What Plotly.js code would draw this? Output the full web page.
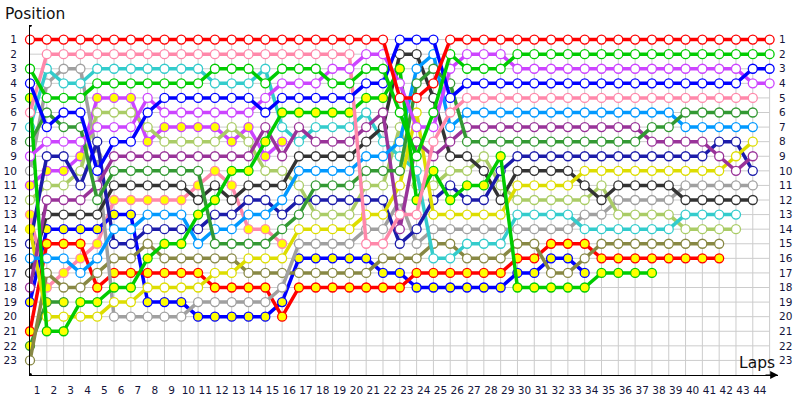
<!DOCTYPE html>
<html><head><meta charset="utf-8">
<script src="https://cdn.plot.ly/plotly-3.0.1.min.js"></script>
<style>html,body{margin:0;padding:0;background:#fff}#chart{width:800px;height:400px}</style>
</head><body><div id="chart"></div>
<script>
const laps = [0,1,2,3,4,5,6,7,8,9,10,11,12,13,14,15,16,17,18,19,20,21,22,23,24,25,26,27,28,29,30,31,32,33,34,35,36,37,38,39,40,41,42,43,44];
const lapTicks = [1,2,3,4,5,6,7,8,9,10,11,12,13,14,15,16,17,18,19,20,21,22,23,24,25,26,27,28,29,30,31,32,33,34,35,36,37,38,39,40,41,42,43,44];
const posTicks = [1,2,3,4,5,6,7,8,9,10,11,12,13,14,15,16,17,18,19,20,21,22,23];

// positions per lap (lap 0 = grid)
const red     = [1,1,1,1,1,1,1,1,1,1, 1,1,1,1,1,1,1,1,1,1, 1,1,5,5,4,1,1,1,1,1, 1,1,1,1,1,1,1,1,1,1, 1,1,1,1,1];
const pink    = [6,2,2,2,2,2,2,2,2,2, 2,2,2,2,2,2,2,2,2,2, 15,15,13,13,8,6,5,5,5,5, 5,5,5,5,5,5,5,5,5,5, 5,5,5,5];
const cyan    = [7,3,4,4,3,3,3,3,3,3, 3,4,4,4,3,7,8,7,7,7, 6,8,9,10,16,16,15,15,15,13, 13,13,13,14,14,14,14,14,14,13, 13,13,13];
const green   = [3,5,5,5,4,4,4,4,4,4, 4,3,3,3,4,3,3,3,4,4, 3,3,6,9,6,2,3,3,3,2, 2,2,2,2,2,2,2,2,2,2, 2,2,2,2,2];
const blue    = [4,7,6,6,10,8,8,6,5,5, 5,5,5,5,6,5,5,5,5,5, 4,4,1,1,1,5,4,4,4,4, 4,4,4,4,4,4,4,4,4,4, 4,4,4,3,3];
const greenY  = [5,21,21,19,19,18,18,16,15,15, 13,12,10,10,8,6,6,6,6,6, 5,5,3,12,10,12,11,11,9,18, 18,18,18,18,17,17,17,17];
const magenta = [9,8,8,8,7,7,7,5,6,6, 6,6,6,6,5,4,4,4,3,3, 2,2,4,7,7,3,2,2,2,3, 3,3,3,3,3,3,3,3,3,3, 3,3,3,4,4];
const dkgreen = [8,6,7,7,12,10,10,10,10,10, 10,15,15,15,15,14,13,11,11,11, 10,10,10,4,3,4,8,8,8,8, 8,8,8,8,8,8,8,7,7,6, 6,6,6,6];
const gray    = [10,4,3,3,9,20,20,20,20,20, 19,19,19,19,19,18,15,15,15,15, 14,14,12,15,14,14,14,14,14,14, 14,14,14,13,13,12,12,12,12,11, 11,11,11,11];
const magentaY= [11,10,10,9,5,5,5,8,7,7, 7,7,8,7,9,8];
const ltgreen = [12,11,11,10,6,6,6,7,8,8, 8,8,7,8,10,10,11,13,13,13, 11,11,7,11,11,10,10,9,11,12, 12,12,12,12,11,13,13,13,13,14, 14,14,14];
const purple  = [18,12,12,12,11,9,9,9,9,9, 9,9,9,9,7,9,7,8,8,8, 7,6,14,8,9,8,7,7,7,7, 7,7,7,7,7,7,7,8,8,8, 8,9,10,9];
const black   = [17,13,13,13,13,11,11,11,11,11, 12,11,12,11,11,11,9,9,9,9, 8,7,2,2,5,9,9,10,12,10, 10,10,10,11,12,11,11,11,11,12, 12,12,12,12];
const pinkY   = [13,18,17,16,15,12,12,12,12,12, 11,10,11,14,14,15];
const blueY   = [19,14,14,14,14,13,13,19,19,19, 20,20,20,20,20,19,16,16,16,16, 16,17,17,18,18,18,18,18,18,17, 17,16,16,17];
const yellow  = [14,20,20,20,20,19,19,18,18,18, 18,17,17,16,16,16,14,14,14,14, 13,13,11,6,13,13,13,13,13,11, 11,11,11,10,10,10,10,10,10,10, 10,10,9,8];
const indigo  = [15,9,9,11,8,15,15,14,14,14, 14,13,13,12,12,13,12,12,12,12, 12,12,15,14,12,11,12,12,10,9, 9,9,9,9,9,9,9,9,9,9, 9,8,8,10];
const ltblue  = [16,16,16,17,16,14,14,13,13,13, 15,14,14,13,13,12,10,10,10,10, 9,9,8,3,2,7,6,6,6,6, 6,6,6,6,6,6,6,6,6,7, 7,7,7,7];
const olive   = [23,17,18,18,17,16,16,15,16,16, 16,16,16,17,17,17,17,17,17,17, 17,16,16,16,15,15,16,16,16,15, 15,17,17,16,15,15,15,15,15,15, 15,15];
const redY    = [21,15,15,15,18,17,17,17,17,17, 17,18,18,18,18,20,18,18,18,18, 18,18,18,17,17,17,17,17,17,16, 16,15,15,15,16,16,16,16,16,16, 16,16];
const dkgreenY= [22,19,19];

const W = '#ffffff', Y = '#ffff00';
const drivers = [
  {y: dkgreenY, c:'#339933', f:Y},
  {y: magentaY, c:'#cc44ff', f:Y},
  {y: pinkY,    c:'#ff88aa', f:Y},
  {y: blueY,    c:'#0000ff', f:Y},
  {y: redY,     c:'#ff0000', f:Y},
  {y: olive,    c:'#888844', f:W},
  {y: gray,     c:'#a0a0a0', f:W},
  {y: ltgreen,  c:'#aacc66', f:W},
  {y: cyan,     c:'#33cccc', f:W},
  {y: black,    c:'#333333', f:W},
  {y: indigo,   c:'#1c1caa', f:W},
  {y: yellow,   c:'#dddd00', f:W, f0:Y},
  {y: purple,   c:'#993399', f:W},
  {y: ltblue,   c:'#0099ff', f:W},
  {y: dkgreen,  c:'#339933', f:W},
  {y: greenY,   c:'#00cc00', f:Y},
  {y: pink,     c:'#ff88aa', f:W},
  {y: magenta,  c:'#cc44ff', f:W},
  {y: blue,     c:'#0000ff', f:W},
  {y: green,    c:'#00cc00', f:W},
  {y: red,      c:'#ff0000', f:W}
];

const traces = drivers.map(d => ({
  type:'scatter', mode:'lines+markers',
  x: laps.slice(0, d.y.length), y: d.y,
  line:{color:d.c, width:3.5},
  marker:{size:9, color: d.f0 ? d.y.map((v,i)=> i===0 ? d.f0 : d.f) : d.f, line:{color:d.c, width:1.3}},
  cliponaxis:false, hoverinfo:'skip', showlegend:false
}));
traces.push({type:'scatter', x:[0], y:[0], xaxis:'x2', yaxis:'y', mode:'markers', marker:{opacity:0}, hoverinfo:'skip', showlegend:false});
traces.push({type:'scatter', x:[0], y:[0], xaxis:'x', yaxis:'y2', mode:'markers', marker:{opacity:0}, hoverinfo:'skip', showlegend:false});

const shapes = [];
lapTicks.forEach(l => shapes.push({type:'line', xref:'x', yref:'y', x0:l, x1:l, y0:1, y1:24, layer:'below', line:{color:'#cccccc', width:1}}));
posTicks.forEach(p => shapes.push({type:'line', xref:'x', yref:'y', x0:0, x1:44, y0:p, y1:p, layer:'below', line:{color:'#cccccc', width:1}}));
shapes.push({type:'circle', xref:'x', yref:'y', xsizemode:'pixel', ysizemode:'pixel', xanchor:0, yanchor:0, x0:-2, x1:2, y0:-2, y1:2, fillcolor:'#000', line:{width:0}});
shapes.push({type:'circle', xref:'x', yref:'y', xsizemode:'pixel', ysizemode:'pixel', xanchor:0, yanchor:24, x0:-2, x1:2, y0:-2, y1:2, fillcolor:'#000', line:{width:0}});

const tickFont = {family:'DejaVu Sans, Verdana, sans-serif', size:10.5, color:'#14143a'};
const titleFont = {family:'DejaVu Sans, Verdana, sans-serif', size:15.5, color:'#111'};
const layout = {
  width:800, height:400,
  margin:{l:30, r:22, t:25, b:25},
  paper_bgcolor:'#fff', plot_bgcolor:'#fff',
  showlegend:false,
  xaxis:{range:[0,44.5], showgrid:false, zeroline:false, showline:true, linecolor:'#000', linewidth:1, showticklabels:false, ticks:'', fixedrange:true},
  xaxis2:{overlaying:'x', anchor:'y', side:'bottom', range:[0,44.5], showgrid:false, zeroline:false, showline:false,
          tickmode:'array', tickvals: lapTicks.map(v => v - 0.58), ticktext: lapTicks.map(String), ticks:'', tickfont:tickFont, ticklabelstandoff:7},
  yaxis:{range:[24,0], showgrid:false, zeroline:false, showline:true, linecolor:'#000', linewidth:1,
         tickmode:'array', tickvals:posTicks, ticktext:posTicks.map(String), ticks:'', tickfont:tickFont, ticklabelstandoff:10},
  yaxis2:{overlaying:'y', side:'right', anchor:'x', range:[24,0], showgrid:false, zeroline:false, showline:false,
          tickmode:'array', tickvals:posTicks, ticktext:posTicks.map(String), ticks:'', tickfont:tickFont, ticklabelstandoff:0},
  shapes: shapes,
  annotations:[
    {xref:'paper', yref:'paper', x:-0.036, y:1.03, xanchor:'left', yanchor:'middle', text:'Position', showarrow:false, font:titleFont},
    {xref:'paper', yref:'paper', x:0.972, y:0.033, xanchor:'center', yanchor:'middle', text:'Laps', showarrow:false, font:titleFont},
    {xref:'x', yref:'y', x:44.5, y:24, ax:-14, ay:0, text:'', showarrow:true, arrowhead:2, arrowsize:1.3, arrowwidth:1.2, arrowcolor:'#000'}
  ]
};
Plotly.newPlot('chart', traces, layout, {staticPlot:true, displayModeBar:false});
</script></body></html>
